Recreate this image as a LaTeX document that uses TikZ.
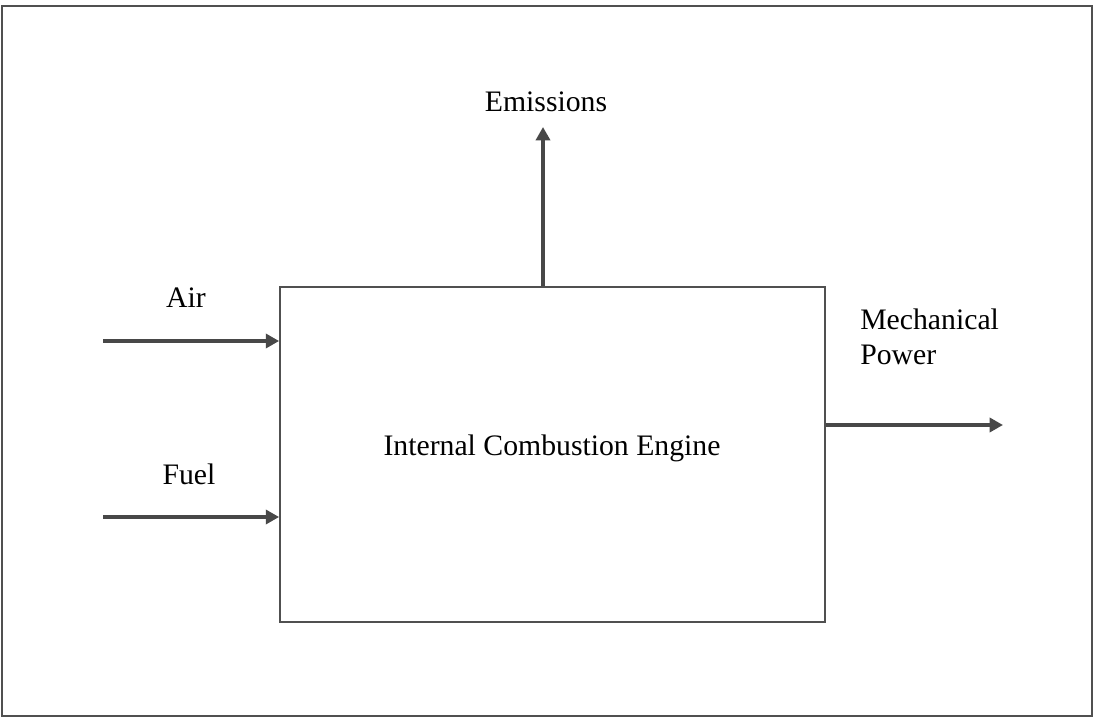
\documentclass[tikz,border=0pt]{standalone}
\usepackage{fontspec}
\setmainfont{Liberation Serif}
\usetikzlibrary{arrows.meta,calc}
\definecolor{linegray}{HTML}{505050}
\definecolor{arrowgray}{HTML}{484848}
\tikzset{
  frameline/.style={draw=linegray, line width=1.3pt},
  flowarrow/.style={draw=arrowgray, line width=3.6pt, -{Triangle[length=10pt,width=10.5pt]}},
  lbl/.style={font=\fontsize{22.3}{25}\selectfont, inner sep=0pt, text=black},
}
\begin{document}
\begin{tikzpicture}[x=0.75pt,y=-0.75pt]
\useasboundingbox (0,0) rectangle (1094,720);
\fill[white] (0,0) rectangle (1094,720);
\draw[frameline] (2,6) rectangle (1092,716);
% main box
\node[frameline, minimum width=408.75pt, minimum height=251.25pt, inner sep=0pt] (box) at (552.5,454.5) {};
\node[lbl] (ice) at (552,448) {Internal Combustion Engine};
% free ends
\coordinate (airstart) at (103,341);
\coordinate (fuelstart) at (103,517);
\coordinate (emtip) at (543,127);
\coordinate (mptip) at (1003,425);
% arrows
\draw[flowarrow] (airstart) -- (airstart -| box.west);
\draw[flowarrow] (fuelstart) -- (fuelstart -| box.west);
\draw[flowarrow] (emtip |- box.north) -- (emtip);
\draw[flowarrow] (mptip -| box.east) -- (mptip);
% labels
\node[lbl] (air) at (186,298) {Air};
\node[lbl] (fuel) at (189,474) {Fuel};
\node[lbl] (em) at (546,102) {Emissions};
\node[lbl, align=left, anchor=north west] (mp) at (860,309) {Mechanical\\[1.25pt]Power};
\end{tikzpicture}
\end{document}
